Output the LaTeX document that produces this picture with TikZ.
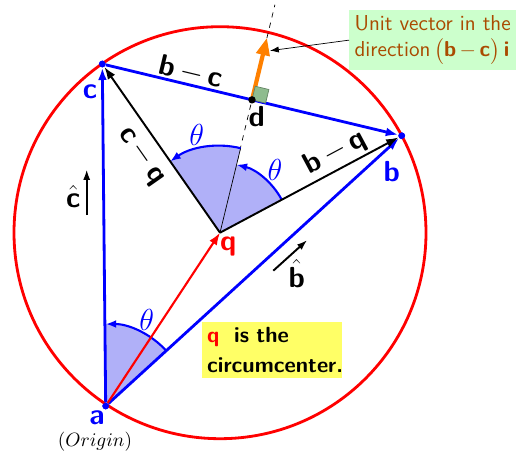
\documentclass[tikz,border=0pt]{standalone}
\usepackage{amsmath,amssymb}
\usepackage{xcolor}
\usepackage{tikz}
\usetikzlibrary{positioning,arrows.meta,calc}
\definecolor{notebrown}{RGB}{170,75,0}
\definecolor{notegreen}{RGB}{204,255,204}
\definecolor{noteyellow}{RGB}{255,255,102}
\definecolor{sectorblue}{RGB}{176,176,248}
\definecolor{rightgreen}{RGB}{143,188,143}
\tikzset{
vdot/.style={
circle,
fill=blue,
inner sep=0pt,
minimum size=3.8pt
},
sidevec/.style={
-{Latex[length=7pt,width=5pt]},
blue,
line width=1.6pt
},
qvec/.style={
-{Latex[length=7pt,width=5pt]},
black,
line width=1.1pt
},
anglearc/.style={
-{Latex[length=6pt,width=4.5pt]},
blue,
line width=1.2pt
},
sector/.style={
fill=sectorblue
},
lbl/.style={
font=\fontsize{16.5}{19}\selectfont\sffamily\bfseries
},
thetalbl/.style={
blue,
font=\fontsize{17}{19}\selectfont
},
pointer/.style={
-{Latex[length=5pt,width=3.5pt]},
thin
}
}

\begin{document}
\begin{tikzpicture}[x=0.02cm,y=0.02cm]
\useasboundingbox (0,0) rectangle (517,458);
\coordinate (q) at (220,225.3);
\node[vdot](a) at (105.7,52){};
\node[vdot](b) at (401.7,322.3){};
\node[vdot](c) at (102.3,394){};
\coordinate (d) at ($(b.center)!0.5!(c.center)$);
\coordinate (top) at ($(q)!1.716!(d)$);

\draw[red,line width=1.6pt](q) circle (206);
\draw[dashed,thin](q)--(top);

% shaded angles
\fill[sector](a.center)--++(42.4:82) arc (42.4:90:82)--cycle;
\fill[sector](q)--++(28.1:70) arc (28.1:76.3:70)--cycle;
\fill[sector](q)--++(76.3:87) arc (76.3:124.9:87)--cycle;
\draw[thin](q)--++(76.3:87);
\draw[anglearc]($(a.center)+(42.4:82)$) arc (42.4:90:82);
\draw[anglearc]($(q)+(28.1:70)$) arc (28.1:76.3:70);
\draw[anglearc]($(q)+(76.3:87)$) arc (76.3:124.9:87);

% triangle and vectors from q
\foreach \x/\y in {a/c,a/b,c/b}
\draw[sidevec](\x)--(\y);
\foreach \y in {c,b}
\draw[qvec](q)--(\y);
\draw[-{Latex[length=7pt,width=5pt]},red,line width=1.2pt](a)--(q);
\node[vdot] at (a){};
\node[vdot] at (b){};
\node[vdot] at (c){};

% unit vector at d
\coordinate (tip) at ($(q)!1.468!(d)$);
\draw[-{Triangle[length=10pt,width=7.5pt]},orange,line width=2.4pt](d)--(tip);
\coordinate (s1) at ($(d)!0.28cm!(b)$);
\coordinate (s2) at ($(d)!0.28cm!90:(b)$);
\draw[fill=rightgreen,draw=rightgreen!70!black,thin](d)--(s1)--($(s1)+(s2)-(d)$)--(s2)--cycle;
\node[circle,fill=black,inner sep=0pt,minimum size=4.2pt](dd) at (d){};

% labels
\node[lbl,blue] at (97,40){a};
\node[font=\fontsize{11}{13}\selectfont] at (95,16.3){$(Origin)$};
\node[lbl,blue] at (90,366.3){c};
\node[lbl,blue] at (391.7,286.3){b};
\node[lbl,red] at (228.3,211.3){q};
\node[lbl] at (256.7,341.3){d};
\node[lbl,rotate=-13.5] at (191,386){b\,$-$\,c};
\node[lbl,rotate=-55] at (142,302){c\,$-$\,q};
\node[lbl,rotate=28.1] at (335,305){b\,$-$\,q};
\node[thetalbl] at (196.7,323){$\theta$};
\node[thetalbl] at (275,288){$\theta$};
\node[thetalbl] at (146.7,138){$\theta$};

% unit vectors
\node[lbl] (chat) at (73.3,261.3){$\hat{\textbf{c}}$};
\coordinate (c1) at (86.7,243);
\coordinate (c2) at (86.7,288.7);
\draw[-{Latex[length=6pt,width=4pt]},line width=1.1pt](c1)--(c2);
\node[lbl] (bhat) at (296.7,184.7){$\hat{\textbf{b}}$};
\coordinate (b1) at (273.3,187.3);
\coordinate (b2) at (307.3,218);
\draw[-{Latex[length=6pt,width=4pt]},line width=1.1pt](b1)--(b2);

% notes
\node[anchor=north west,fill=notegreen,text=notebrown,align=left,inner sep=3pt,minimum width=3.28cm,minimum height=1.14cm,font=\fontsize{12.3}{15}\selectfont\sffamily](unit) at (349,448){Unit vector in the\\direction\,$\big($\textbf{b}\,$-$\,\textbf{c}$\big)$\,\textbf{i}};
\coordinate (arrowend) at (270,407.3);
\draw[pointer](unit.west)--(arrowend);
\node[fill=noteyellow,align=left,inner sep=3pt,text width=2.6cm,minimum height=1.04cm,font=\fontsize{12.5}{17}\selectfont\sffamily\bfseries](circ) at (272.2,108){\textcolor{red}{q}\ \ is the\\circumcenter.};
\end{tikzpicture}
\end{document}
